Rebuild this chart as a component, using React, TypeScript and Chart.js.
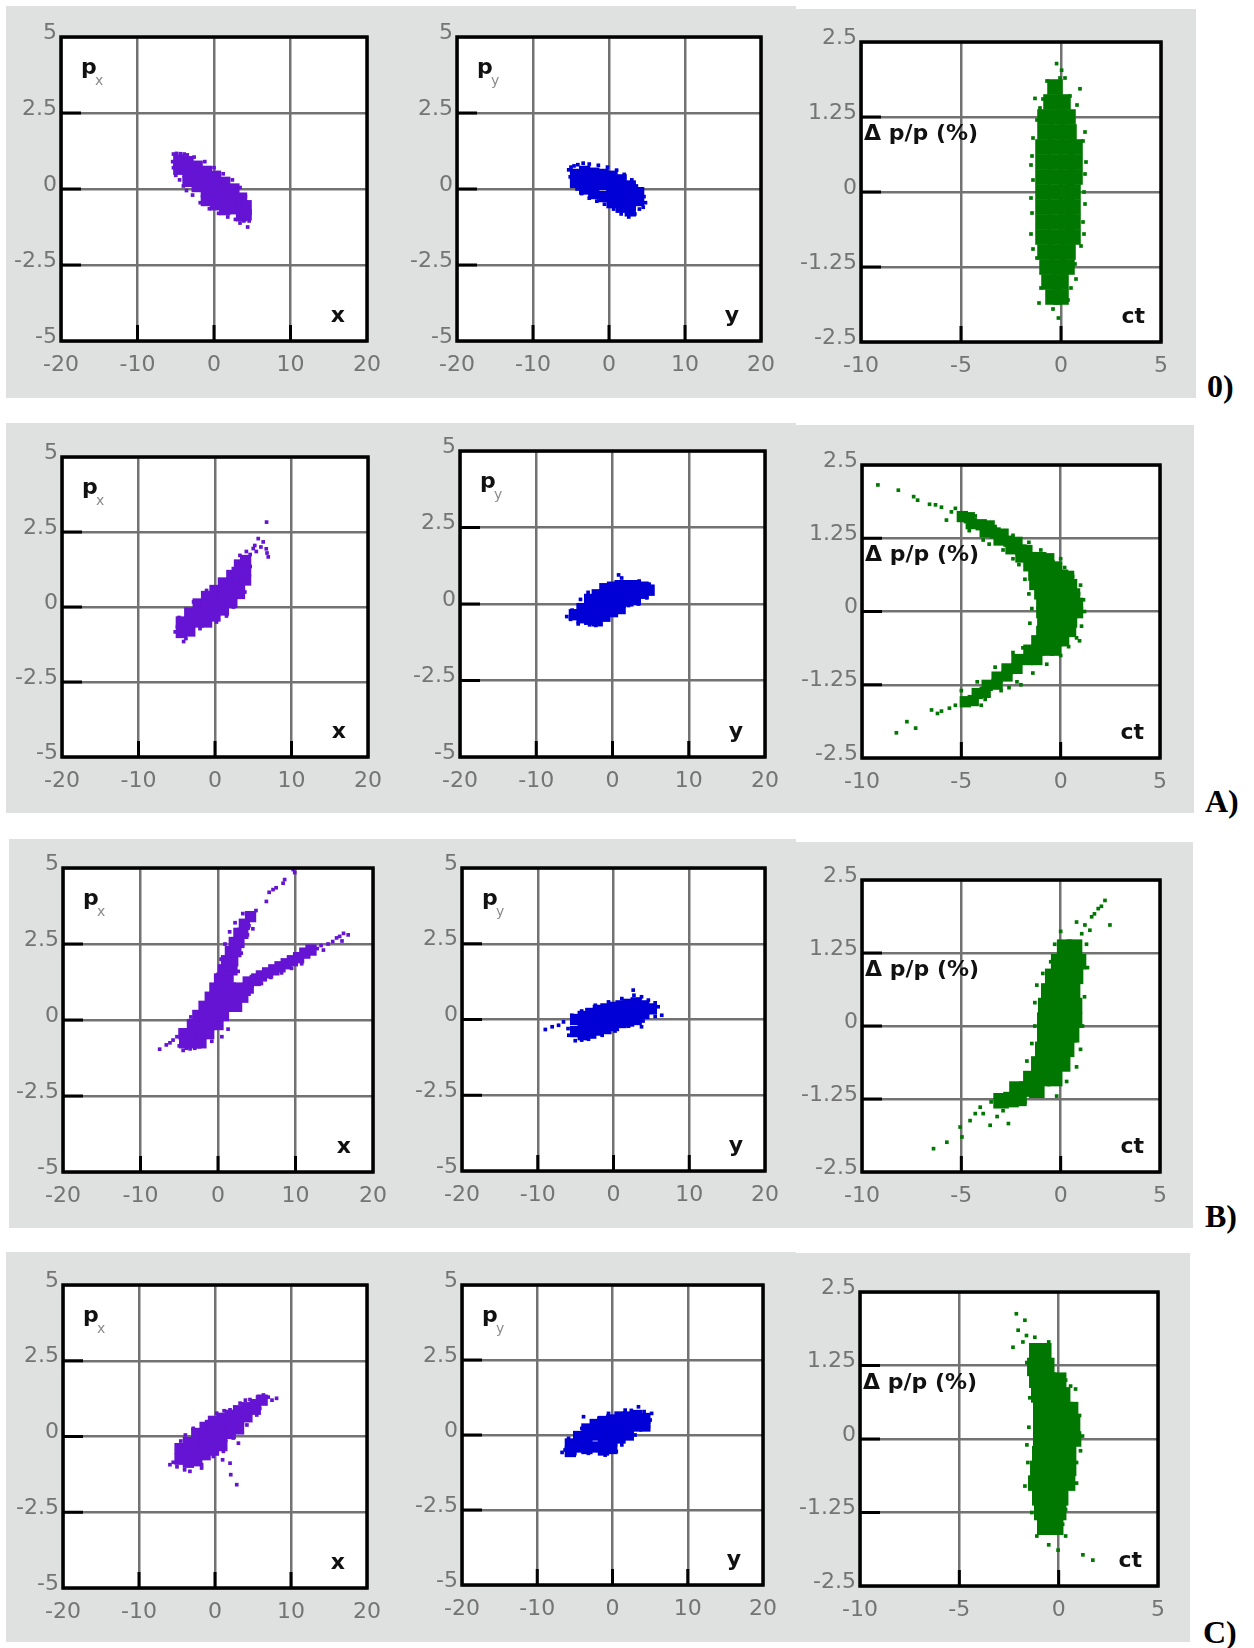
import React, { useEffect, useRef } from 'react';
import { Chart, registerables } from 'chart.js';

Chart.register(...registerables);

type P = [number, number];

// ---------- tick labels ----------
const phaseXTicks = ['-20', '-10', '0', '10', '20'];
const phaseYTicks = ['-5', '-2.5', '0', '2.5', '5'];
const ctXTicks = ['-10', '-5', '0', '5'];
const ctYTicks = ['-2.5', '-1.25', '0', '1.25', '2.5'];
const rowLabels = ['0)', 'A)', 'B)', 'C)'];

// ---------- row 0 ----------
const row0PxCore: P[] = [
  [-4.6, 0.95], [-4.6, 0.65],
  [-3.4, 0.9], [-3.4, 0.55], [-3.4, 0.25],
  [-2.2, 0.75], [-2.2, 0.42], [-2.2, 0.08],
  [-1.0, 0.58], [-1.0, 0.25], [-1.0, -0.1], [-1.0, -0.38],
  [0.2, 0.42], [0.2, 0.1], [0.2, -0.25], [0.2, -0.52],
  [1.4, 0.22], [1.4, -0.1], [1.4, -0.42], [1.4, -0.68],
  [2.6, 0.0], [2.6, -0.32], [2.6, -0.65],
  [3.6, -0.3], [3.6, -0.6], [3.6, -0.88],
  [4.2, -0.55], [4.2, -0.85],
];
const row0PxDots: P[] = [
  [-5.3, 1.15], [-4.9, 1.17], [-4.4, 1.16], [-3.9, 1.15], [-3.5, 1.12], [-5.4, 0.9], [-5.3, 0.7],
  [-5.0, 0.45], [-4.5, 0.3], [-4.0, 0.1], [-3.6, -0.05], [-2.8, -0.2], [-1.8, -0.45], [-0.6, -0.65],
  [0.6, -0.8], [1.8, -0.92], [2.8, -1.0], [3.4, -1.12], [3.9, -1.05], [4.4, -1.25], [4.6, -1.05],
  [4.7, -0.8], [4.5, -0.55], [4.1, -0.25], [3.4, 0.05], [2.4, 0.3], [1.2, 0.5], [0.0, 0.7],
  [-1.2, 0.9], [-2.6, 1.05],
];
const row0PyCore: P[] = [
  [-4.4, 0.48], [-4.4, 0.22],
  [-3.2, 0.58], [-3.2, 0.28], [-3.2, 0.0],
  [-2.0, 0.52], [-2.0, 0.2], [-2.0, -0.15],
  [-0.8, 0.48], [-0.8, 0.15], [-0.8, -0.25],
  [0.4, 0.42], [0.4, 0.1], [0.4, -0.22], [0.4, -0.45],
  [1.6, 0.3], [1.6, -0.02], [1.6, -0.35], [1.6, -0.6],
  [2.8, 0.1], [2.8, -0.2], [2.8, -0.5], [2.8, -0.72],
  [3.9, -0.12], [3.9, -0.38],
];
const row0PyDots: P[] = [
  [-5.3, 0.63], [-5.0, 0.72], [-4.6, 0.76], [-4.1, 0.8], [-5.1, 0.4], [-4.8, 0.15], [-4.2, 0.0],
  [-3.6, -0.15], [-2.6, -0.3], [-1.6, -0.4], [-0.6, -0.5], [0.6, -0.66], [1.6, -0.82], [2.6, -0.92],
  [3.4, -0.82], [4.0, -0.66], [4.5, -0.6], [4.8, -0.45], [4.6, -0.25], [4.3, -0.08], [3.6, 0.1],
  [3.0, 0.3], [2.0, 0.48], [1.0, 0.62], [-0.2, 0.72], [-1.4, 0.78], [-2.6, 0.82], [-3.4, 0.85],
];
const row0CtCore: P[] = [
  [-0.3, 1.75],
  [-0.5, 1.5], [0.1, 1.5],
  [-0.8, 1.25], [-0.2, 1.25], [0.35, 1.25],
  [-0.8, 1.0], [-0.2, 1.0], [0.4, 1.0],
  [-0.9, 0.75], [-0.3, 0.75], [0.3, 0.75], [0.7, 0.75],
  [-0.9, 0.5], [-0.3, 0.5], [0.3, 0.5], [0.7, 0.5],
  [-0.9, 0.25], [-0.3, 0.25], [0.3, 0.25], [0.7, 0.25],
  [-0.9, 0.0], [-0.3, 0.0], [0.3, 0.0], [0.6, 0.0],
  [-0.9, -0.25], [-0.3, -0.25], [0.3, -0.25], [0.6, -0.25],
  [-0.9, -0.5], [-0.3, -0.5], [0.3, -0.5], [0.6, -0.5],
  [-0.9, -0.75], [-0.3, -0.75], [0.3, -0.75], [0.6, -0.75],
  [-0.8, -1.0], [-0.2, -1.0], [0.35, -1.0],
  [-0.7, -1.25], [-0.1, -1.25], [0.3, -1.25],
  [-0.6, -1.5], [0.0, -1.5],
  [-0.4, -1.75], [0.0, -1.75],
];
const row0CtDots: P[] = [
  [-0.22, 2.14], [0.03, 2.03], [-0.05, 1.9], [0.95, 1.72], [-1.3, 1.56], [-1.05, 1.4], [0.6, 1.3],
  [1.1, 0.85], [1.25, 0.5], [-1.5, 0.45], [-1.4, 0.2], [1.15, 0.0], [1.1, -0.5], [-1.5, -0.7],
  [1.0, -0.9], [-1.2, -1.1], [0.7, -1.2], [-1.1, -1.85], [0.35, -1.8], [-0.13, -2.1], [-0.4, -1.95],
  [0.45, 1.6], [-0.9, 1.55], [-1.4, 0.9], [-1.45, 0.6], [-1.5, -0.1], [-1.45, -0.35], [-1.4, -0.95],
  [1.2, 0.3], [1.2, -0.2], [1.15, -0.7], [1.2, 1.0], [0.8, 1.45], [-1.2, 1.2], [0.75, -1.45],
  [-1.0, -1.6], [0.5, -1.6], [-0.7, 1.85], [0.2, 1.9],
];

// ---------- row A ----------
const rowAPxCore: P[] = [
  [-4.4, -0.5], [-4.4, -0.85],
  [-3.3, -0.2], [-3.3, -0.5], [-3.3, -0.8],
  [-2.2, 0.1], [-2.2, -0.2], [-2.2, -0.5],
  [-1.1, 0.35], [-1.1, 0.05], [-1.1, -0.25], [-1.1, -0.5],
  [0.0, 0.55], [0.0, 0.25], [0.0, -0.05], [0.0, -0.3],
  [1.1, 0.8], [1.1, 0.5], [1.1, 0.2], [1.1, -0.1],
  [2.2, 1.05], [2.2, 0.75], [2.2, 0.45], [2.2, 0.15],
  [3.2, 1.4], [3.2, 1.1], [3.2, 0.75], [3.2, 0.45],
  [4.0, 1.55], [4.0, 1.2], [4.0, 0.9],
];
const rowAPxDots: P[] = [
  [-5.2, -0.83], [-4.9, -0.65], [-4.7, -0.35], [-4.1, -1.15], [-3.8, -1.05], [-2.8, 0.17],
  [-1.96, -0.72], [-1.1, 0.55], [0.65, 0.83], [0.2, -0.5], [1.5, -0.3], [2.4, 0.0], [2.4, 1.28],
  [3.26, 1.72], [3.9, 0.5], [4.35, 1.06], [4.6, 1.35], [4.1, 1.85], [4.6, 1.75], [5.0, 1.95],
  [5.4, 1.85], [5.65, 2.28], [6.3, 2.17], [6.0, 2.0], [6.7, 1.94], [6.96, 1.67], [6.8, 1.8],
  [6.74, 2.83], [5.2, 2.05],
];
const rowAPyCore: P[] = [
  [-5.0, -0.35],
  [-4.0, -0.15], [-4.0, -0.45],
  [-3.0, 0.15], [-3.0, -0.2], [-3.0, -0.5],
  [-2.0, 0.3], [-2.0, 0.0], [-2.0, -0.35], [-2.0, -0.55],
  [-1.0, 0.5], [-1.0, 0.15], [-1.0, -0.2], [-1.0, -0.4],
  [0.0, 0.55], [0.0, 0.25], [0.0, -0.1], [0.0, -0.25],
  [1.0, 0.6], [1.0, 0.3], [1.0, 0.05], [1.0, -0.15],
  [2.0, 0.6], [2.0, 0.35], [2.0, 0.1],
  [3.0, 0.6], [3.0, 0.35], [3.0, 0.15],
  [4.0, 0.55], [4.0, 0.35],
  [4.8, 0.45],
];
const rowAPyDots: P[] = [
  [-6.0, -0.41], [-5.5, -0.5], [-4.5, -0.65], [-3.0, -0.68], [-2.2, -0.7], [0.8, 0.95], [1.2, 0.85],
  [5.15, 0.57], [4.8, 0.65], [2.1, -0.05], [3.5, 0.75], [-5.3, -0.2], [-4.2, 0.15], [-3.2, 0.38],
  [3.4, 0.0], [4.5, 0.2],
];
const rowACtCore: P[] = [
  [-4.95, 1.62], [-4.6, 1.6],
  [-4.5, 1.5], [-4.0, 1.48], [-3.6, 1.46],
  [-3.8, 1.36], [-3.3, 1.34], [-2.9, 1.32],
  [-3.1, 1.22], [-2.6, 1.2], [-2.2, 1.18],
  [-2.5, 1.07], [-2.0, 1.05], [-1.7, 1.04],
  [-2.0, 0.93], [-1.5, 0.92], [-1.0, 0.92], [-0.6, 0.9],
  [-1.6, 0.78], [-1.1, 0.78], [-0.6, 0.78], [-0.2, 0.76],
  [-1.35, 0.62], [-0.85, 0.62], [-0.35, 0.62], [0.1, 0.62], [0.4, 0.6],
  [-1.3, 0.46], [-0.8, 0.46], [-0.3, 0.46], [0.2, 0.46], [0.55, 0.46],
  [-1.05, 0.3], [-0.55, 0.3], [-0.05, 0.3], [0.45, 0.3], [0.7, 0.3],
  [-0.95, 0.14], [-0.45, 0.14], [0.05, 0.14], [0.55, 0.14], [0.85, 0.14],
  [-0.95, -0.02], [-0.45, -0.02], [0.05, -0.02], [0.55, -0.02], [0.85, -0.02],
  [-0.9, -0.18], [-0.4, -0.18], [0.1, -0.18], [0.55, -0.18],
  [-0.95, -0.34], [-0.45, -0.34], [0.05, -0.34], [0.5, -0.34],
  [-1.2, -0.5], [-0.7, -0.5], [-0.2, -0.5], [0.15, -0.5],
  [-1.6, -0.66], [-1.1, -0.66], [-0.6, -0.66], [-0.25, -0.66],
  [-2.2, -0.82], [-1.7, -0.82], [-1.2, -0.82],
  [-2.7, -0.98], [-2.2, -0.97],
  [-3.2, -1.12], [-2.7, -1.1],
  [-3.7, -1.26], [-3.2, -1.24],
  [-4.2, -1.4], [-3.8, -1.38],
  [-4.8, -1.54], [-4.4, -1.52],
];
const rowACtDots: P[] = [
  [-9.2, 2.16], [-8.17, 2.07], [-7.4, 1.96], [-7.2, 1.9], [-6.6, 1.83], [-6.3, 1.82], [-6.0, 1.78],
  [-5.75, 1.56], [-5.5, 1.7], [-5.3, 1.76],
  [-8.27, -2.07], [-7.74, -1.88], [-7.3, -1.99], [-6.5, -1.68], [-6.2, -1.74], [-6.0, -1.7],
  [-5.6, -1.65], [-5.3, -1.6],
  [-4.3, 1.63], [-3.3, 1.45], [-2.4, 1.3], [-1.6, 1.18], [-0.9, 0.95], [-0.4, 0.85], [0.2, 0.75],
  [0.6, 0.6], [1.0, 0.45], [1.15, 0.2], [1.2, 0.0], [1.05, -0.25], [0.8, -0.45], [0.4, -0.6],
  [0.0, -0.75], [-0.7, -0.9], [-1.4, -1.05], [-2.2, -1.2], [-3.0, -1.35], [-3.8, -1.5],
  [-1.9, -0.62], [-2.4, 0.9], [-1.6, 0.3], [-1.55, -0.2], [-3.6, 1.15], [-2.0, -1.25],
  [-4.6, 1.38], [-3.9, 1.22], [-2.9, 1.05], [-2.1, 0.8], [-1.8, 0.55], [-1.45, 0.05],
  [-2.4, -0.7], [-3.3, -0.95], [-4.2, -1.2], [-5.0, -1.35], [-2.6, -1.3], [-4.0, -1.6],
  [-1.0, 1.05], [0.0, 0.9], [0.9, 0.3], [0.95, -0.5],
];

// ---------- row B ----------
const rowBPxCore: P[] = [
  [-4.3, -0.75], [-3.2, -0.75], [-2.2, -0.75],
  [-4.4, -0.45], [-3.3, -0.45], [-2.2, -0.45], [-1.2, -0.45],
  [-3.3, -0.15], [-2.2, -0.15], [-1.1, -0.15], [0.0, -0.15],
  [-2.6, 0.15], [-1.5, 0.15], [-0.4, 0.15], [0.7, 0.15],
  [-1.8, 0.45], [-0.7, 0.45], [0.4, 0.45], [1.4, 0.45], [2.4, 0.45],
  [-1.0, 0.75], [0.1, 0.75], [1.2, 0.75], [2.2, 0.75], [3.2, 0.75],
  [-0.4, 1.05], [0.6, 1.05], [1.6, 1.05], [2.8, 1.05], [3.9, 1.05],
  [0.2, 1.35], [1.3, 1.35], [5.0, 1.35],
  [0.7, 1.65], [1.8, 1.65],
  [1.1, 1.95], [1.9, 1.95],
  [1.6, 2.25], [2.3, 2.25],
  [2.1, 2.55], [2.7, 2.55],
  [2.7, 2.85], [3.2, 2.85],
  [3.4, 3.15],
  [4.2, 3.4],
  [3.9, 1.25], [4.8, 1.3], [5.6, 1.45], [6.4, 1.55], [7.2, 1.65], [8.0, 1.75], [8.8, 1.85],
  [9.6, 1.95], [10.4, 2.05], [11.2, 2.2], [12.0, 2.3],
];
const rowBPxDots: P[] = [
  [-7.53, -0.96], [-6.67, -0.82], [-6.2, -0.75], [-5.8, -0.66], [-5.3, -0.55], [-4.73, -0.33],
  [-4.09, -0.93], [-3.6, -0.95], [-3.0, -0.93], [-2.37, -0.88], [-1.94, -0.66], [-5.0, -0.85],
  [-4.5, -1.0],
  [4.9, 3.6], [6.24, 3.9], [6.6, 4.2], [7.1, 4.29], [7.5, 4.35], [8.4, 4.5], [8.6, 4.62],
  [9.7, 4.95], [9.9, 4.85],
  [12.8, 2.35], [13.3, 2.45], [14.2, 2.5], [14.8, 2.58], [15.3, 2.7], [15.7, 2.75], [16.2, 2.85],
  [16.8, 2.8], [16.0, 2.6], [13.6, 2.3],
  [2.2, 3.2], [3.2, 3.5], [4.0, 3.1], [0.0, 1.5], [-0.6, 0.9], [3.0, 0.7], [4.0, 0.85], [5.6, 1.2],
  [6.8, 1.4], [8.2, 1.55], [9.5, 1.7], [10.8, 1.85], [2.6, 1.6], [-2.0, 0.3], [-3.5, 0.1],
  [1.3, -0.3], [0.5, -0.55], [-0.8, -0.7], [0.4, 2.0], [0.9, 2.5], [1.5, 2.9], [3.0, 2.2],
  [3.8, 2.8], [4.5, 3.0],
];
const rowBPyCore: P[] = [
  [-5.0, 0.0], [-5.0, -0.4],
  [-4.0, 0.1], [-4.0, -0.2], [-4.0, -0.5],
  [-3.0, 0.2], [-3.0, -0.1], [-3.0, -0.45],
  [-2.0, 0.3], [-2.0, 0.0], [-2.0, -0.35],
  [-1.0, 0.35], [-1.0, 0.05], [-1.0, -0.3],
  [0.0, 0.4], [0.0, 0.1], [0.0, -0.2],
  [1.0, 0.45], [1.0, 0.15], [1.0, -0.1],
  [2.0, 0.5], [2.0, 0.2], [2.0, -0.05],
  [3.0, 0.55], [3.0, 0.25], [3.0, 0.0],
  [4.0, 0.45], [4.0, 0.2],
  [5.0, 0.35],
];
const rowBPyDots: P[] = [
  [-9.0, -0.33], [-8.1, -0.24], [-7.25, -0.19], [-6.6, -0.08], [-6.0, -0.3], [-5.9, -0.52],
  [-5.05, -0.7], [-4.2, -0.68], [-3.3, -0.65], [-1.5, -0.52], [0.2, -0.38], [2.0, -0.22],
  [3.7, -0.24], [3.9, -0.05], [5.5, 0.1], [6.37, 0.14], [5.9, 0.42], [5.5, 0.55], [4.6, 0.64],
  [3.7, 0.75], [2.6, 0.97], [2.7, 0.8], [1.1, 0.69], [-0.66, 0.58], [-2.4, 0.47], [-4.2, 0.28],
  [-5.5, 0.14],
];
const rowBCtCore: P[] = [
  [0.2, 1.35], [0.7, 1.35],
  [-0.1, 1.1], [0.5, 1.1], [0.9, 1.1],
  [-0.4, 0.85], [0.2, 0.85], [0.75, 0.85],
  [-0.6, 0.6], [0.0, 0.6], [0.6, 0.6],
  [-0.75, 0.35], [-0.15, 0.35], [0.45, 0.35], [0.7, 0.35],
  [-0.8, 0.1], [-0.2, 0.1], [0.4, 0.1], [0.7, 0.1],
  [-0.8, -0.15], [-0.2, -0.15], [0.4, -0.15], [0.55, -0.15],
  [-0.9, -0.4], [-0.3, -0.4], [0.3, -0.4],
  [-1.1, -0.65], [-0.5, -0.65], [0.1, -0.65],
  [-1.5, -0.9], [-0.9, -0.9], [-0.3, -0.9],
  [-2.2, -1.08], [-1.7, -1.08], [-1.2, -1.1],
  [-3.0, -1.28], [-2.5, -1.26], [-2.1, -1.24],
];
const rowBCtDots: P[] = [
  [2.23, 2.15], [2.05, 2.05], [1.89, 2.01], [1.7, 1.92], [1.56, 1.87], [0.8, 1.78], [1.22, 1.73],
  [1.47, 1.64], [2.48, 1.73], [1.06, 1.58], [0.0, 1.62], [1.3, 1.4],
  [-3.9, -1.5], [-4.05, -1.39], [-4.56, -1.62], [-5.06, -1.73], [-5.73, -1.99], [-6.4, -2.1],
  [-4.97, -1.9], [-3.55, -1.7], [-2.63, -1.67], [-3.2, -1.55], [-2.9, -1.45], [-4.3, -1.5],
  [1.2, 0.5], [1.1, 0.0], [1.0, -0.4], [0.8, -0.7], [0.3, -0.95], [-1.3, 0.4], [-1.3, 0.0],
  [-1.45, -0.3], [-1.7, -0.6], [-0.2, -1.2], [-0.5, 1.1], [-1.2, 0.7], [-3.5, -1.3], [-1.8, -1.3],
  [1.35, 1.0], [-0.9, 0.9], [-0.3, 1.4],
];

// ---------- row C ----------
const rowCPxCore: P[] = [
  [-4.6, -0.4], [-4.6, -0.75],
  [-3.5, -0.2], [-3.5, -0.55], [-3.5, -0.85],
  [-2.4, 0.1], [-2.4, -0.2], [-2.4, -0.5], [-2.4, -0.8],
  [-1.3, 0.3], [-1.3, 0.0], [-1.3, -0.3], [-1.3, -0.6],
  [-0.2, 0.5], [-0.2, 0.2], [-0.2, -0.15], [-0.2, -0.45],
  [0.9, 0.6], [0.9, 0.3], [0.9, 0.0], [0.9, -0.3],
  [2.0, 0.7], [2.0, 0.4], [2.0, 0.1],
  [3.1, 0.85], [3.1, 0.55], [3.1, 0.25],
  [4.2, 0.95], [4.2, 0.65],
  [5.3, 1.05], [5.3, 0.9],
  [6.2, 1.2],
];
const rowCPxDots: P[] = [
  [-5.93, -0.93], [-5.5, -0.85], [-5.0, -1.0], [-4.0, -1.1], [-3.3, -1.15], [-4.5, -0.15],
  [-3.9, 0.05], [-2.86, 0.27], [-1.1, 0.49], [0.22, 0.77], [1.2, 0.85], [1.98, 0.88], [3.3, 1.1],
  [4.0, 1.2], [4.6, 1.22], [5.6, 1.3], [6.37, 1.37], [7.0, 1.3], [7.5, 1.2], [8.1, 1.26], [5.9, 0.93],
  [5.5, 0.71], [4.2, 0.38], [3.08, -0.22], [2.4, -0.05], [1.1, -0.49], [1.0, -0.77], [1.98, -0.88],
  [2.07, -1.26], [2.86, -1.59], [-0.22, -0.66], [-1.76, -0.93], [-1.76, -1.04],
];
const rowCPyCore: P[] = [
  [-5.6, -0.3], [-5.6, -0.55],
  [-4.5, -0.05], [-4.5, -0.4],
  [-3.4, 0.2], [-3.4, -0.15], [-3.4, -0.45],
  [-2.3, 0.35], [-2.3, 0.0], [-2.3, -0.4],
  [-1.2, 0.45], [-1.2, 0.1], [-1.2, -0.25], [-1.2, -0.5],
  [-0.1, 0.5], [-0.1, 0.15], [-0.1, -0.2], [-0.1, -0.45],
  [1.0, 0.6], [1.0, 0.25], [1.0, -0.1],
  [2.1, 0.6], [2.1, 0.3], [2.1, 0.0],
  [3.2, 0.65], [3.2, 0.3],
  [4.3, 0.55], [4.3, 0.3],
];
const rowCPyDots: P[] = [
  [-6.7, -0.58], [-6.3, -0.5], [-5.84, -0.11], [-5.0, -0.62], [-4.07, 0.22], [-3.85, 0.61],
  [-3.2, -0.61], [-1.8, 0.56], [-0.97, -0.67], [-0.53, 0.72], [0.5, -0.55], [1.24, -0.33],
  [1.68, 0.83], [2.5, 0.82], [3.0, 0.0], [3.45, 0.94], [4.2, 0.78], [4.78, 0.28], [5.2, 0.72],
  [5.0, 0.5],
];
const rowCCtCore: P[] = [
  [-1.1, 1.5], [-0.75, 1.5],
  [-1.2, 1.25], [-0.6, 1.25],
  [-1.1, 1.0], [-0.5, 1.0], [0.0, 1.0],
  [-1.0, 0.75], [-0.4, 0.75], [0.2, 0.75],
  [-0.9, 0.5], [-0.3, 0.5], [0.3, 0.5], [0.6, 0.5],
  [-0.9, 0.25], [-0.3, 0.25], [0.3, 0.25], [0.7, 0.25],
  [-0.9, 0.0], [-0.3, 0.0], [0.3, 0.0], [0.75, 0.0],
  [-0.95, -0.25], [-0.35, -0.25], [0.25, -0.25], [0.5, -0.25],
  [-1.05, -0.5], [-0.45, -0.5], [0.15, -0.5], [0.5, -0.5],
  [-1.15, -0.75], [-0.55, -0.75], [0.1, -0.75], [0.45, -0.75],
  [-0.95, -1.0], [-0.35, -1.0], [0.1, -1.0],
  [-0.85, -1.25], [-0.3, -1.25], [0.0, -1.25],
  [-0.7, -1.5], [-0.15, -1.5],
];
const rowCCtDots: P[] = [
  [-2.13, 2.13], [-1.7, 2.02], [-2.04, 1.85], [-1.62, 1.76], [-2.3, 1.56], [-1.8, 1.65],
  [-1.2, 1.73], [-0.5, 1.65], [-1.6, 1.3], [-1.5, 1.1], [0.35, 1.0], [0.85, 0.85], [1.05, 0.4],
  [1.2, 0.05], [0.9, -0.4], [0.9, -0.75], [-1.55, -0.4], [-1.7, -0.8], [-1.5, 0.2], [-1.35, -1.25],
  [0.35, -1.2], [-1.1, -1.65], [0.35, -1.65], [-0.03, -1.89], [-0.5, -1.8], [1.22, -1.97],
  [1.72, -2.06], [-1.45, 0.7], [-1.6, -0.1], [1.1, -0.2], [0.6, 0.9], [-1.0, 1.6], [0.2, -1.45],
];

// ---------- styles ----------
const PURPLE = '#6414d2';
const BLUE = '#0000d6';
const GREEN = '#007800';
const PANEL_GREY = '#dfe0e0';
const FONT = 'DejaVu Sans';

type Kind = 'px' | 'py' | 'ct';
interface Spec {
  kind: Kind;
  color: string;
  core: P[];
  dots: P[];
  coreR: number;
  c: [number, number, number, number]; // canvas x, y, w, h
  p: [number, number, number, number]; // plot L, T, R, B
}

const specs: Spec[] = [
  { kind: 'px', color: PURPLE, core: row0PxCore, dots: row0PxDots, coreR: 8, c: [6, 6, 404, 392], p: [61, 37, 367, 341] },
  { kind: 'py', color: BLUE, core: row0PyCore, dots: row0PyDots, coreR: 8, c: [410, 6, 386, 392], p: [457, 37, 761, 341] },
  { kind: 'ct', color: GREEN, core: row0CtCore, dots: row0CtDots, coreR: 11, c: [796, 9, 400, 389], p: [861, 42, 1161, 342] },
  { kind: 'px', color: PURPLE, core: rowAPxCore, dots: rowAPxDots, coreR: 8, c: [6, 423, 406, 390], p: [62, 457, 368, 757] },
  { kind: 'py', color: BLUE, core: rowAPyCore, dots: rowAPyDots, coreR: 8, c: [412, 423, 384, 390], p: [460, 451, 765, 757] },
  { kind: 'ct', color: GREEN, core: rowACtCore, dots: rowACtDots, coreR: 8, c: [796, 425, 398, 388], p: [862, 465, 1160, 758] },
  { kind: 'px', color: PURPLE, core: rowBPxCore, dots: rowBPxDots, coreR: 8, c: [9, 839, 405, 389], p: [63, 868, 373, 1172] },
  { kind: 'py', color: BLUE, core: rowBPyCore, dots: rowBPyDots, coreR: 8, c: [414, 839, 382, 389], p: [462, 868, 765, 1171] },
  { kind: 'ct', color: GREEN, core: rowBCtCore, dots: rowBCtDots, coreR: 11, c: [796, 842, 397, 386], p: [862, 880, 1160, 1172] },
  { kind: 'px', color: PURPLE, core: rowCPxCore, dots: rowCPxDots, coreR: 8, c: [6, 1252, 406, 390], p: [63, 1285, 367, 1588] },
  { kind: 'py', color: BLUE, core: rowCPyCore, dots: rowCPyDots, coreR: 8, c: [412, 1252, 384, 390], p: [462, 1285, 763, 1585] },
  { kind: 'ct', color: GREEN, core: rowCCtCore, dots: rowCCtDots, coreR: 11, c: [796, 1253, 394, 389], p: [860, 1292, 1158, 1586] },
];

const labelPos = [
  { left: 1207, top: 370 },
  { left: 1205, top: 785 },
  { left: 1205, top: 1200 },
  { left: 1203, top: 1616 },
];

const framePlugin = {
  id: 'frame',
  beforeDraw(chart: any) {
    const { ctx, chartArea: a, width, height } = chart;
    ctx.save();
    ctx.fillStyle = PANEL_GREY;
    ctx.fillRect(0, 0, width, height);
    ctx.fillStyle = '#ffffff';
    ctx.fillRect(a.left, a.top, a.right - a.left, a.bottom - a.top);
    ctx.restore();
  },
  afterDraw(chart: any, _args: any, opts: any) {
    const { ctx, chartArea: a, scales } = chart;
    const xs = scales.x;
    const ys = scales.y;
    ctx.save();
    ctx.strokeStyle = '#000';
    ctx.lineWidth = 3;
    ctx.lineCap = 'butt';
    for (const t of ys.ticks) {
      if (t.value > ys.min && t.value < ys.max) {
        const y = ys.getPixelForValue(t.value);
        ctx.beginPath();
        ctx.moveTo(a.left, y);
        ctx.lineTo(a.left + 20, y);
        ctx.stroke();
      }
    }
    for (const t of xs.ticks) {
      if (t.value > xs.min && t.value < xs.max) {
        const x = xs.getPixelForValue(t.value);
        ctx.beginPath();
        ctx.moveTo(x, a.bottom);
        ctx.lineTo(x, a.bottom - 16);
        ctx.stroke();
      }
    }
    ctx.lineWidth = 3.5;
    ctx.strokeRect(a.left, a.top, a.right - a.left, a.bottom - a.top);

    ctx.fillStyle = '#111';
    ctx.textBaseline = 'alphabetic';
    const kind: Kind = opts.kind;
    if (kind === 'ct') {
      ctx.font = `bold 22px "${FONT}"`;
      ctx.textAlign = 'left';
      ctx.fillText('Δ p/p (%)', a.left + 3, ys.getPixelForValue(1.25) + 23);
      ctx.textAlign = 'right';
      ctx.fillText('ct', a.right - 16, a.bottom - 19);
    } else {
      const sub = kind === 'px' ? 'x' : 'y';
      ctx.font = `bold 22px "${FONT}"`;
      ctx.textAlign = 'left';
      ctx.fillText('p', a.left + 20, a.top + 37);
      ctx.font = `14px "${FONT}"`;
      ctx.fillStyle = '#8a8a8a';
      ctx.fillText(sub, a.left + 34, a.top + 48);
      ctx.fillStyle = '#111';
      ctx.font = `bold 22px "${FONT}"`;
      ctx.textAlign = 'right';
      ctx.fillText(sub, a.right - 22, a.bottom - 19);
    }
    ctx.restore();
  },
};

const toXY = (arr: P[]) => arr.map(([x, y]) => ({ x, y }));

function Panel({ spec }: { spec: Spec }) {
  const ref = useRef<HTMLCanvasElement>(null);
  useEffect(() => {
    if (!ref.current) return;
    const [cx, cy, cw, ch] = spec.c;
    const [L, T, R, B] = spec.p;
    const isCt = spec.kind === 'ct';
    const xLabels = isCt ? ctXTicks : phaseXTicks;
    const yLabels = isCt ? ctYTicks : phaseYTicks;
    const tickFont = { family: FONT, size: 22 };
    const gridOpts = { color: '#727272', lineWidth: 2.5, drawTicks: false };
    const chart = new Chart(ref.current, {
      type: 'scatter',
      data: {
        datasets: [
          {
            data: toXY(spec.core),
            pointStyle: 'rect',
            pointRadius: spec.coreR,
            pointHoverRadius: spec.coreR,
            backgroundColor: spec.color,
            borderWidth: 0,
          },
          {
            data: toXY(spec.dots),
            pointStyle: 'rect',
            pointRadius: 2.6,
            pointHoverRadius: 2.6,
            backgroundColor: spec.color,
            borderWidth: 0,
          },
        ],
      },
      options: {
        responsive: false,
        animation: false,
        devicePixelRatio: 1,
        events: [],
        layout: { padding: { left: 0, top: T - cy, right: cx + cw - R, bottom: 0 } },
        plugins: {
          legend: { display: false },
          tooltip: { enabled: false },
          frame: { kind: spec.kind },
        } as any,
        scales: {
          x: {
            type: 'linear',
            min: isCt ? -10 : -20,
            max: isCt ? 5 : 20,
            afterFit: (s: any) => { s.height = cy + ch - B; },
            grid: gridOpts,
            border: { display: false },
            ticks: {
              stepSize: isCt ? 5 : 10,
              autoSkip: false,
              maxRotation: 0,
              padding: 11,
              color: '#747474',
              font: tickFont,
              callback: (_v: any, i: number) => xLabels[i],
            },
          },
          y: {
            type: 'linear',
            min: isCt ? -2.5 : -5,
            max: isCt ? 2.5 : 5,
            afterFit: (s: any) => { s.width = L - cx; },
            grid: gridOpts,
            border: { display: false },
            ticks: {
              stepSize: isCt ? 1.25 : 2.5,
              autoSkip: false,
              padding: 4,
              labelOffset: -4,
              color: '#747474',
              font: tickFont,
              callback: (_v: any, i: number) => yLabels[i],
            },
          },
        },
      } as any,
      plugins: [framePlugin as any],
    });
    return () => chart.destroy();
  }, [spec]);
  const [cx, cy, cw, ch] = spec.c;
  return (
    <canvas
      ref={ref}
      width={cw}
      height={ch}
      style={{ position: 'absolute', left: cx, top: cy, width: cw, height: ch, display: 'block' }}
    />
  );
}

export default function App() {
  return (
    <div
      style={{
        position: 'absolute',
        left: 0,
        top: 0,
        width: 1254,
        height: 1648,
        background: '#ffffff',
        overflow: 'hidden',
      }}
    >
      {specs.map((s, i) => (
        <Panel key={i} spec={s} />
      ))}
      {rowLabels.map((t, i) => (
        <div
          key={t}
          style={{
            position: 'absolute',
            left: labelPos[i].left,
            top: labelPos[i].top,
            fontFamily: '"Liberation Serif", "Times New Roman", serif',
            fontWeight: 'bold',
            fontSize: 32,
            lineHeight: '32px',
            color: '#000',
            whiteSpace: 'nowrap',
          }}
        >
          {t}
        </div>
      ))}
    </div>
  );
}
